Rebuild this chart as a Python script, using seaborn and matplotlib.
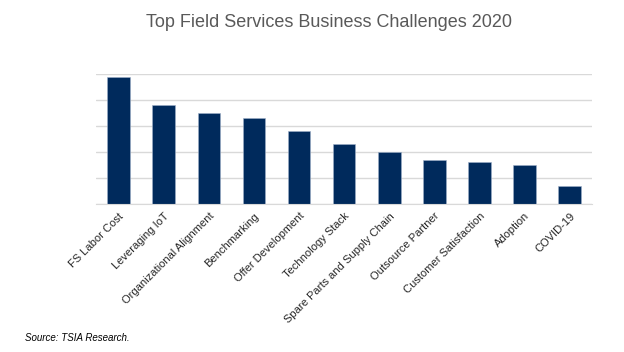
import numpy as np
import pandas as pd
import matplotlib
matplotlib.use("Agg")
import matplotlib.pyplot as plt
import seaborn as sns

sns.set_style("white")
plt.rcParams['font.family'] = ['Liberation Sans', 'DejaVu Sans']

# data (arbitrary units, grid step = 10)
challenges = ["FS Labor Cost", "Leveraging IoT", "Organizational Alignment",
              "Benchmarking", "Offer Development", "Technology Stack",
              "Spare Parts and Supply Chain", "Outsource Partner",
              "Customer Satisfaction", "Adoption", "COVID-19"]
scores = [49, 38, 35, 33, 28, 23, 20, 17, 16, 15, 7]

df = pd.DataFrame({"Challenge": challenges, "Score": scores})

fig = plt.figure(figsize=(6.24, 3.52), dpi=100)
ax = fig.add_axes([0.154, 0.42, 0.795, 0.37])

ax.yaxis.grid(True, color="#d9d9d9", linewidth=1)
ax.set_axisbelow(True)
sns.barplot(x="Challenge", y="Score", data=df, color="#002a5c", width=0.5,
            edgecolor="#9fb0c8", linewidth=0.4, saturation=1, ax=ax)

ax.set_ylim(0, 50)
ax.set_yticks(np.arange(0, 51, 10))
ax.set_yticklabels([])
ax.tick_params(axis="y", length=0)
ax.tick_params(axis="x", length=0, pad=5)
ax.set_xlim(-0.5, len(challenges) - 0.5)
ax.set_xticks(range(len(challenges)))
ax.set_xticklabels(challenges, rotation=45, ha="right", rotation_mode="anchor",
                   fontsize=8, color="#262626")
ax.set_xlabel("")
ax.set_ylabel("")
for s in ["top", "right", "left"]:
    ax.spines[s].set_visible(False)
ax.spines["bottom"].set_color("#d9d9d9")

fig.text(0.527, 0.937, "Top Field Services Business Challenges 2020",
         ha="center", va="center", fontsize=13, color="#595959")
fig.text(0.04, 0.04, "Source: TSIA Research.", ha="left", va="center",
         fontsize=7, style="italic", color="#000000")

plt.savefig("out.png", dpi=100)
